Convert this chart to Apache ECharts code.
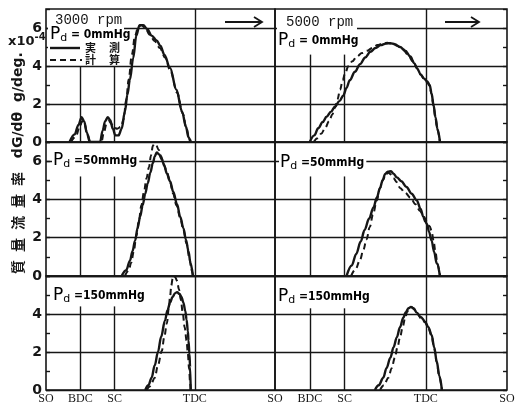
<!DOCTYPE html>
<html>
<head>
<meta charset="utf-8">
<script src="https://cdn.jsdelivr.net/npm/echarts@6/dist/echarts.min.js"></script>
<style>
  html, body { margin: 0; padding: 0; background: #fff; }
  #chart { width: 522px; height: 408px; }
</style>
</head>
<body>
<div id="chart"></div>
<script>
// Crank angle events (deg ATDC) and their names along the bottom axis
const eventAngles = [126, 180, 234, 360, 486];
const eventNames = ['SO', 'BDC', 'SC', 'TDC', 'SO'];

// Mass flow rate dG/dθ (x10^-4 g/deg) against crank angle: [deg, value]
// 3000 rpm, Pd = 0 mmHg
const meas3000p0 = [[163,0],[171,0.4],[177,0.9],[182,1.3],[186,1.1],[190,0.5],[195,0],[211,0],[215,0.6],[219,1.1],[223,1.3],[227,1.15],[231,0.7],[235,0.35],[240,0.35],[245,0.7],[250,1.6],[254,2.5],[258,3.3],[263,4.4],[268,5.6],[273,6.15],[279,6.15],[285,5.95],[292,5.6],[300,5.35],[306,5.05],[312,4.6],[321,3.9],[331,2.75],[340,1.6],[346,0.8],[350,0.25],[353,0]];
const calc3000p0 = [[165,0],[173,0.3],[179,0.8],[183,1.1],[187,0.9],[191,0.4],[196,0],[213,0],[217,0.5],[221,0.95],[225,1.1],[229,0.95],[233,0.75],[238,0.7],[244,0.8],[248,1.2],[252,2.2],[256,3.3],[261,4.6],[266,5.6],[271,6.05],[276,6.15],[282,6.0],[289,5.65],[297,5.3],[305,4.95],[313,4.45],[322,3.7],[332,2.6],[341,1.5],[347,0.7],[351,0.2],[354,0]];
// 5000 rpm, Pd = 0 mmHg
const meas5000p0 = [[180,0],[187,0.35],[193,0.72],[200,1.05],[206,1.33],[213,1.6],[219,1.86],[226,2.15],[232,2.45],[237,2.85],[242,3.25],[250,3.7],[258,4.1],[266,4.45],[274,4.75],[282,4.95],[290,5.1],[298,5.18],[305,5.2],[312,5.15],[320,5.0],[328,4.8],[336,4.5],[342,4.15],[347,3.85],[352,3.55],[357,3.35],[362,3.2],[366,3.0],[369,2.55],[372,1.95],[375,1.3],[378,0.7],[382,0]];
const calc5000p0 = [[186,0],[192,0.2],[198,0.45],[204,0.75],[210,1.1],[215,1.45],[219,1.8],[223,2.25],[227,2.75],[231,3.25],[235,3.65],[240,4.0],[246,4.25],[253,4.5],[261,4.68],[269,4.8],[277,4.95],[285,5.1],[293,5.18],[300,5.22],[308,5.18],[316,5.05],[324,4.9],[332,4.6],[340,4.25],[346,3.9],[352,3.55],[357,3.35],[362,3.15],[366,2.95],[369,2.5],[372,1.9],[375,1.25],[378,0.65],[382,0]];
// 3000 rpm, Pd = 50 mmHg
const meas3000p50 = [[245,0],[252,0.3],[258,0.8],[262,1.3],[266,1.85],[270,2.5],[274,3.1],[278,3.7],[282,4.3],[286,4.85],[290,5.4],[294,5.9],[297,6.25],[300,6.45],[304,6.35],[308,6.1],[312,5.75],[316,5.35],[321,4.95],[326,4.4],[332,3.75],[337,3.1],[342,2.5],[346,1.9],[350,1.3],[353,0.7],[357,0]];
const calc3000p50 = [[250,0],[256,0.3],[260,0.7],[264,1.3],[268,2.1],[272,2.9],[276,3.7],[280,4.4],[284,5.1],[288,5.7],[291,6.3],[294,6.8],[296,6.9],[299,6.85],[303,6.6],[307,6.25],[311,5.85],[316,5.45],[321,4.9],[326,4.3],[331,3.7],[337,3.05],[342,2.4],[347,1.7],[351,1.0],[355,0.3],[357,0]];
// 5000 rpm, Pd = 50 mmHg
const meas5000p50 = [[237,0],[245,0.55],[252,1.15],[259,1.8],[265,2.4],[272,3.0],[279,3.6],[284,4.1],[289,4.6],[293,5.0],[297,5.33],[301,5.45],[306,5.47],[310,5.35],[315,5.15],[322,4.95],[330,4.65],[338,4.3],[346,3.95],[352,3.5],[356,3.1],[359,2.85],[362,2.7],[365,2.3],[369,1.85],[373,1.25],[377,0.65],[382,0]];
const calc5000p50 = [[244,0],[251,0.35],[258,0.85],[263,1.35],[268,1.9],[273,2.55],[278,3.2],[284,3.95],[289,4.6],[294,5.05],[298,5.3],[302,5.4],[306,5.3],[310,5.1],[315,4.9],[320,4.6],[328,4.35],[336,4.1],[344,3.75],[351,3.4],[357,3.1],[362,2.85],[366,2.6],[369,2.35],[372,1.85],[375,1.25],[378,0.65],[382,0]];
// 3000 rpm, Pd = 150 mmHg
const meas3000p150 = [[282,0],[287,0.25],[292,0.65],[297,1.3],[302,2.0],[307,2.8],[313,3.65],[317,4.2],[321,4.6],[325,4.9],[329,5.1],[332,5.15],[336,5.05],[339,4.9],[342,4.6],[345,4.15],[347,3.7],[349,3.1],[350,2.6],[351.5,1.9],[352.5,1.2],[353.5,0]];
const calc3000p150 = [[284,0],[290,0.2],[297,0.65],[302,1.3],[308,2.05],[312,2.8],[316,3.5],[319,4.3],[321,4.9],[323,5.5],[325,5.85],[327,6.0],[329,5.95],[332,5.75],[335,5.3],[338,4.75],[341,4.05],[344,3.3],[347,2.6],[349,1.9],[351,1.1],[352.5,0.4],[353.5,0]];
// 5000 rpm, Pd = 150 mmHg
const meas5000p150 = [[281,0],[287,0.25],[294,0.65],[299,1.15],[305,1.7],[310,2.25],[315,2.77],[320,3.3],[325,3.8],[329,4.1],[333,4.3],[337,4.37],[341,4.3],[346,4.07],[352,3.85],[359,3.6],[364,3.3],[369,2.9],[373,2.25],[377,1.5],[381,0.75],[385,0]];
const calc5000p150 = [[289,0],[295,0.25],[302,0.65],[307,1.15],[312,1.7],[316,2.25],[320,2.77],[324,3.3],[328,3.8],[331,4.1],[334,4.3],[338,4.37],[342,4.25],[347,4.0],[353,3.75],[359,3.55],[364,3.25],[369,2.85],[373,2.2],[377,1.45],[381,0.7],[385,0]];

const ink = '#161616';

// Panel layout: two speed columns, three delivery-pressure rows
const cols = [{ left: 46, width: 229 }, { left: 275, width: 232 }];
const rows = [
  { top: 9, height: 133, max: 7, labels: [0, 2, 4, 6] },
  { top: 142, height: 134, max: 7, labels: [0, 2, 4, 6] },
  { top: 276, height: 114, max: 6, labels: [0, 2, 4] }
];
const panels = [
  { row: 0, col: 0, meas: meas3000p0, calc: calc3000p0, guide: 4.0 },
  { row: 0, col: 1, meas: meas5000p0, calc: calc5000p0, guide: 4.6 },
  { row: 1, col: 0, meas: meas3000p50, calc: calc3000p50, guide: 5.2 },
  { row: 1, col: 1, meas: meas5000p50, calc: calc5000p50, guide: 5.2 },
  { row: 2, col: 0, meas: meas3000p150, calc: calc3000p150, guide: 4.4 },
  { row: 2, col: 1, meas: meas5000p150, calc: calc5000p150, guide: 4.3 }
];

const grids = [], xAxes = [], yAxes = [], series = [];
panels.forEach((p, i) => {
  const r = rows[p.row], c = cols[p.col];
  grids.push({
    left: c.left, top: r.top, width: c.width, height: r.height,
    show: true, borderColor: ink, borderWidth: 1.6, backgroundColor: 'transparent'
  });
  const bottomRow = p.row === 2;
  const labelValues = p.col === 0 ? eventAngles.slice(0, 4) : eventAngles;
  xAxes.push({
    gridIndex: i, type: 'value', min: eventAngles[0], max: eventAngles[4],
    axisLine: { show: false }, axisTick: { show: false }, splitLine: { show: false },
    axisLabel: bottomRow ? {
      show: true, customValues: labelValues, margin: 3,
      color: ink, fontSize: 12, fontFamily: 'Liberation Serif',
      formatter: v => eventNames[eventAngles.indexOf(v)] || ''
    } : { show: false }
  });
  yAxes.push({
    gridIndex: i, type: 'value', min: 0, max: r.max, interval: 1,
    position: p.col === 0 ? 'left' : 'right',
    axisLine: { show: false },
    axisTick: { show: true, inside: true, length: 4, lineStyle: { color: ink, width: 1.4 } },
    axisLabel: p.col === 0 ? {
      show: true, margin: 4, color: ink, fontSize: 14, fontWeight: 'bold',
      fontFamily: 'DejaVu Sans',
      formatter: v => (r.labels.indexOf(v) >= 0 ? String(v) : '')
    } : { show: false },
    splitLine: { show: true, lineStyle: { color: [ink, 'rgba(0,0,0,0)'], width: 1.4 } }
  });
  const [so, bdc, sc, tdc] = eventAngles;
  series.push({
    type: 'line', xAxisIndex: i, yAxisIndex: i, data: p.meas,
    symbol: 'none', smooth: 0.35, smoothMonotone: 'x',
    lineStyle: { color: ink, width: 2.4 }, z: 4,
    markLine: {
      silent: true, symbol: 'none', label: { show: false },
      lineStyle: { color: ink, width: 1.4, type: 'solid' },
      data: [
        [{ coord: [bdc, 0] }, { coord: [bdc, p.guide] }],
        [{ coord: [sc, 0] }, { coord: [sc, p.guide] }],
        [{ coord: [tdc, 0] }, { coord: [tdc, r.max] }]
      ]
    }
  });
  series.push({
    type: 'line', xAxisIndex: i, yAxisIndex: i, data: p.calc,
    symbol: 'none', smooth: 0.35, smoothMonotone: 'x',
    lineStyle: { color: ink, width: 2.0, type: [6, 4] }, z: 5
  });
});

// Pressure label with subscripted d
function pdText(value) {
  return '{p|P}{d|d}{t|' + value + '}';
}
const pdRich = {
  p: { fontSize: 17, fontFamily: 'DejaVu Sans', color: ink, lineHeight: 18 },
  d: { fontSize: 11, fontFamily: 'DejaVu Sans', color: ink, lineHeight: 18, verticalAlign: 'bottom', padding: [5, 0, 0, 0] },
  t: { fontSize: 12, fontFamily: 'DejaVu Sans Condensed, Liberation Sans Narrow, Liberation Sans', fontWeight: 'bold', color: ink, lineHeight: 18 }
};
function pdLabel(x, y, value, bg) {
  return {
    type: 'text', x: x, y: y, z: 20,
    style: {
      text: pdText(value), rich: pdRich, verticalAlign: 'middle',
      backgroundColor: bg ? '#fff' : null, padding: bg ? [0, 2, 0, 1] : 0
    }
  };
}
function kanji(ch, x, y) {
  return {
    type: 'text', x: x, y: y, z: 20,
    style: { text: ch, fontSize: 11, fontWeight: 'bold', fontFamily: 'Noto Sans CJK JP', fill: ink, verticalAlign: 'middle', align: 'left' }
  };
}

const titleRich = { fontSize: 14, fontWeight: 'bold', fontFamily: 'Noto Sans CJK JP', fill: ink, padding: [0, 4, 0, 4] };

const graphic = [
  // blank label areas in the top row
  { type: 'rect', z: 1, shape: { x: 48, y: 11, width: 76, height: 54 }, style: { fill: '#fff' } },
  { type: 'rect', z: 1, shape: { x: 277, y: 11, width: 80, height: 40 }, style: { fill: '#fff' } },
  { type: 'text', x: 55, y: 20, z: 20, style: { text: '3000 rpm', fontSize: 14, fontFamily: 'Liberation Mono', fill: ink, verticalAlign: 'middle' } },
  pdLabel(50, 35, ' = 0mmHg', false),
  // legend: measured / calculated
  { type: 'line', z: 20, shape: { x1: 50, y1: 48, x2: 80, y2: 48 }, style: { stroke: ink, lineWidth: 2.4 } },
  { type: 'line', z: 20, shape: { x1: 50, y1: 60, x2: 82, y2: 60 }, style: { stroke: ink, lineWidth: 2.0, lineDash: [6, 4] } },
  kanji('実', 85, 48), kanji('測', 109, 48),
  kanji('計', 85, 60), kanji('算', 109, 60),
  { type: 'text', x: 286, y: 22, z: 20, style: { text: '5000 rpm', fontSize: 14, fontFamily: 'Liberation Mono', fill: ink, verticalAlign: 'middle' } },
  pdLabel(278, 41, ' = 0mmHg', false),
  pdLabel(52, 161, ' =50mmHg', true),
  pdLabel(279, 163, ' =50mmHg', true),
  pdLabel(52, 296, ' =150mmHg', true),
  pdLabel(277, 297, ' =150mmHg', true),
  // direction arrows
  { type: 'line', z: 20, shape: { x1: 225, y1: 22, x2: 262, y2: 22 }, style: { stroke: ink, lineWidth: 1.8 } },
  { type: 'polyline', z: 20, shape: { points: [[254, 17], [262, 22], [254, 27]] }, style: { stroke: ink, lineWidth: 1.8, fill: null } },
  { type: 'line', z: 20, shape: { x1: 445, y1: 22, x2: 479, y2: 22 }, style: { stroke: ink, lineWidth: 1.8 } },
  { type: 'polyline', z: 20, shape: { points: [[471, 17], [479, 22], [471, 27]] }, style: { stroke: ink, lineWidth: 1.8, fill: null } },
  // unit multiplier and axis title
  {
    type: 'text', x: 8, y: 40, z: 20,
    style: {
      text: '{a|x10}{s|-4}', verticalAlign: 'middle',
      rich: {
        a: { fontSize: 13, fontWeight: 'bold', fontFamily: 'DejaVu Sans', fill: ink, lineHeight: 16, verticalAlign: 'bottom' },
        s: { fontSize: 10, fontWeight: 'bold', fontFamily: 'DejaVu Sans', fill: ink, lineHeight: 16, verticalAlign: 'top' }
      }
    }
  },
  {
    type: 'text', x: 18, y: 165, z: 20, rotation: Math.PI / 2,
    style: {
      text: '{c|質}{c|量}{c|流}{c|量}{c|率}{l|  dG/dθ  g/deg.}', align: 'center', verticalAlign: 'middle',
      rich: {
        c: titleRich,
        l: { fontSize: 14, fontWeight: 'bold', fontFamily: 'DejaVu Sans', fill: ink }
      }
    }
  }
];

const chart = echarts.init(document.getElementById('chart'), null, { renderer: 'canvas' });
chart.setOption({
  animation: false,
  backgroundColor: '#fff',
  grid: grids,
  xAxis: xAxes,
  yAxis: yAxes,
  series: series,
  graphic: { elements: graphic }
});
</script>
</body>
</html>
